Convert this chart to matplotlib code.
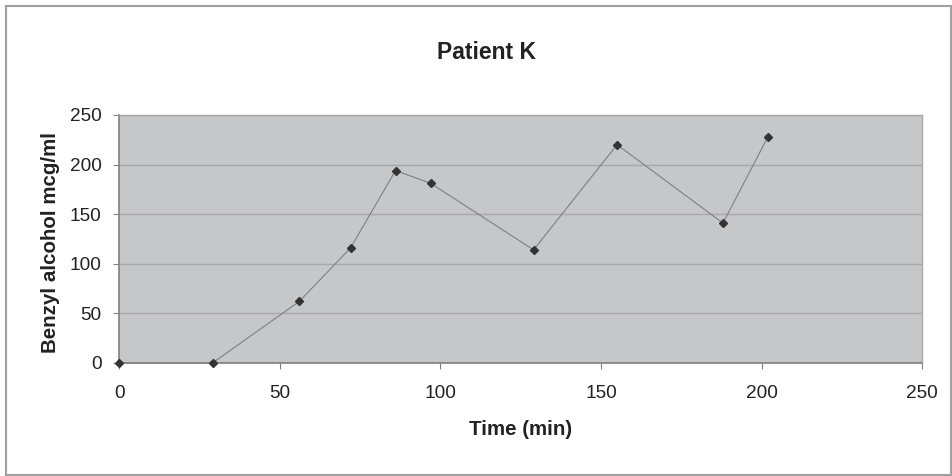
import matplotlib
matplotlib.use("Agg")
import matplotlib.pyplot as plt
from matplotlib.patches import Rectangle

time_min = [0, 29, 56, 72, 86, 97, 129, 155, 188, 202]
benzyl = [0, 0, 62, 116, 194, 181, 114, 220, 141, 228]
x_ticks = [0, 50, 100, 150, 200, 250]
y_ticks = [0, 50, 100, 150, 200, 250]

plt.rcParams['font.family'] = ['Liberation Sans', 'DejaVu Sans']

fig = plt.figure(figsize=(9.52, 4.76), dpi=100)
fig.patch.set_facecolor('white')
# outer chart border
fig.patches.append(Rectangle((0.006, 0.002), 0.993, 0.986, transform=fig.transFigure,
                             fill=False, edgecolor='#a0a0a0', linewidth=1.5))

ax = fig.add_axes([0.1255, 0.2375, 0.843, 0.521])
ax.set_facecolor('#c6c7c9')
ax.plot(time_min, benzyl, color='#808080', linewidth=0.8, clip_on=False, zorder=3,
        marker='D', markersize=4.5, markerfacecolor='#333333', markeredgecolor='#333333')

ax.set_xlim(0, 250)
ax.set_ylim(0, 250)
ax.set_xticks(x_ticks)
ax.set_yticks(y_ticks)
ax.yaxis.grid(True, color='#a8a8a8', linewidth=1)
ax.set_axisbelow(True)
ax.tick_params(direction='out', length=4, color='#808080', labelsize=13.7, labelcolor='#222222')
ax.tick_params(axis='y', pad=9)
ax.tick_params(axis='x', pad=12)
for side in ['left', 'bottom']:
    ax.spines[side].set_color('#808080')
    ax.spines[side].set_linewidth(1.2)
for side in ['top', 'right']:
    ax.spines[side].set_color('#a8a8a8')
    ax.spines[side].set_linewidth(1)

ax.set_xlabel('Time (min)', fontsize=14.8, fontweight='bold', color='#222222')
ax.set_ylabel('Benzyl alcohol mcg/ml', fontsize=14.8, fontweight='bold', color='#222222')
ax.xaxis.set_label_coords(0.5, -0.27)
ax.xaxis.label.set_va('center')
ax.yaxis.set_label_coords(-0.0863, 0.486)
ax.yaxis.label.set_va('center')
fig.text(0.511, 0.889, 'Patient K', ha='center', va='center', fontsize=16.5,
         fontweight='bold', color='#222222')

fig.savefig('out.png', dpi=100)
